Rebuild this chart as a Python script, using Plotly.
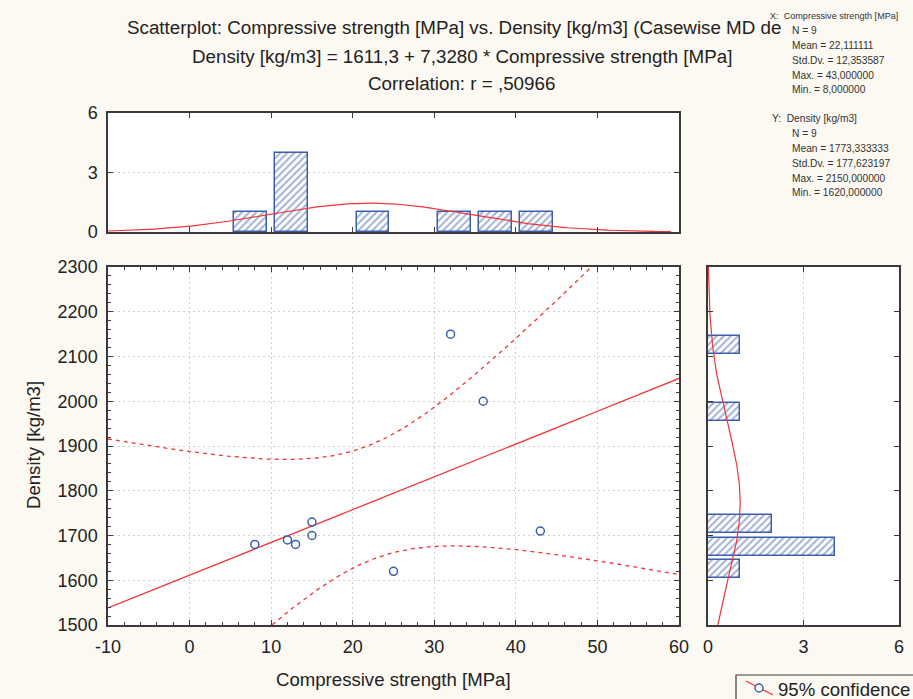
import numpy as np
import pandas as pd
import plotly.graph_objects as go

# ---- data ----
strength = [8, 12, 13, 15, 15, 25, 32, 36, 43]          # Compressive strength [MPa]
density = [1680, 1690, 1680, 1730, 1700, 1620, 2150, 2000, 1710]  # Density [kg/m3]
x_tick_vals = [-10, 0, 10, 20, 30, 40, 50, 60]
y_tick_vals = [1500, 1600, 1700, 1800, 1900, 2000, 2100, 2200, 2300]
hist_tick_vals = [0, 3, 6]
title_lines = [
    "Scatterplot: Compressive strength [MPa] vs. Density [kg/m3] (Casewise MD de",
    "Density [kg/m3] = 1611,3 + 7,3280 * Compressive strength [MPa]",
    "Correlation: r = ,50966",
]
stats_x = ["X:  Compressive strength [MPa]", "N = 9", "Mean = 22,111111",
           "Std.Dv. = 12,353587", "Max. = 43,000000", "Min. = 8,000000"]
stats_y = ["Y:  Density [kg/m3]", "N = 9", "Mean = 1773,333333",
           "Std.Dv. = 177,623197", "Max. = 2150,000000", "Min. = 1620,000000"]
x_bin_edges = list(range(-10, 65, 5))
y_bin_edges = list(range(1500, 2350, 50))

W, H = 913, 699
def px(x): return x / W
def py(y): return 1 - y / H

RED = "#F23434"
BLUE = "#3D5EAD"
FRAME = "#3A3A3A"
GRID = "#CFCFCF"
FONT = "Liberation Sans, Arial, sans-serif"

xs = np.array(strength, float)
ys = np.array(density, float)
n = len(xs)
b1, b0 = np.polyfit(xs, ys, 1)
xline = np.linspace(-10, 60, 400)
yfit = b0 + b1 * xline
res = ys - (b0 + b1 * xs)
s = np.sqrt((res ** 2).sum() / (n - 2))
sxx = ((xs - xs.mean()) ** 2).sum()
t975 = 2.364624  # t(0.975, df=7)
hw = t975 * s * np.sqrt(1 / n + (xline - xs.mean()) ** 2 / sxx)

# histograms (right-closed bins), keep only non-empty bins
xc = pd.cut(pd.Series(xs), bins=x_bin_edges, right=True).value_counts(sort=False)
xc = xc[xc > 0]
x_centers = [(iv.left + iv.right) / 2 for iv in xc.index]
yc = pd.cut(pd.Series(ys), bins=y_bin_edges, right=True).value_counts(sort=False)
yc = yc[yc > 0]
y_centers = [(iv.left + iv.right) / 2 for iv in yc.index]

mx, sdx = xs.mean(), xs.std(ddof=1)
my, sdy = ys.mean(), ys.std(ddof=1)
xn = np.linspace(-10, 59, 300)
xnorm = n * 5 * np.exp(-0.5 * ((xn - mx) / sdx) ** 2) / (sdx * np.sqrt(2 * np.pi))
yn = np.linspace(1500, 2300, 300)
ynorm = n * 50 * np.exp(-0.5 * ((yn - my) / sdy) ** 2) / (sdy * np.sqrt(2 * np.pi))

fig = go.Figure()
# main scatter
fig.add_trace(go.Scatter(x=xline, y=yfit, mode="lines", line=dict(color=RED, width=1.3),
                         xaxis="x", yaxis="y", showlegend=False))
fig.add_trace(go.Scatter(x=xline, y=yfit + hw, mode="lines", line=dict(color=RED, width=1.3, dash="4px,4px"),
                         xaxis="x", yaxis="y", showlegend=False))
fig.add_trace(go.Scatter(x=xline, y=yfit - hw, mode="lines", line=dict(color=RED, width=1.3, dash="4px,4px"),
                         xaxis="x", yaxis="y", showlegend=False))
fig.add_trace(go.Scatter(x=strength, y=density, mode="markers",
                         marker=dict(symbol="circle-open", size=8, color=BLUE, line=dict(width=1.5, color=BLUE)),
                         xaxis="x", yaxis="y", showlegend=False))

bar_marker = dict(color="white", line=dict(color=BLUE, width=1.5),
                  pattern=dict(shape="/", fgcolor=BLUE, bgcolor="white", size=5, solidity=0.38))
# top histogram
fig.add_trace(go.Bar(x=x_centers, y=xc.values, width=4, marker=bar_marker,
                     xaxis="x2", yaxis="y2", showlegend=False))
fig.add_trace(go.Scatter(x=xn, y=xnorm, mode="lines", line=dict(color=RED, width=1.2),
                         xaxis="x2", yaxis="y2", showlegend=False))
# right histogram
fig.add_trace(go.Bar(y=y_centers, x=yc.values, width=40, orientation="h", marker=bar_marker,
                     xaxis="x3", yaxis="y3", showlegend=False))
fig.add_trace(go.Scatter(x=ynorm, y=yn, mode="lines", line=dict(color=RED, width=1.2),
                         xaxis="x3", yaxis="y3", showlegend=False))

axis_common = dict(showline=True, linecolor=FRAME, linewidth=1.5, mirror="ticks",
                   ticks="inside", tickcolor=FRAME, ticklen=5, zeroline=False, automargin=False,
                   ticklabelstandoff=5,
                   tickfont=dict(family=FONT, size=18, color="#222"))

main_xd = [px(108), px(679)]
main_yd = [py(625), py(267)]

fig.update_layout(
    width=W, height=H, margin=dict(l=0, r=0, t=0, b=0, pad=0, autoexpand=False),
    paper_bgcolor="#FCF9F2", plot_bgcolor="white",
    bargap=0,
    xaxis=dict(domain=main_xd, range=[-10, 60], tickvals=x_tick_vals,
               ticktext=[str(v) for v in x_tick_vals],
               showgrid=True, gridcolor=GRID, griddash="2px,3px", gridwidth=1,
               minor=dict(dtick=2, ticks="inside", ticklen=3, tickcolor=FRAME, showgrid=False),
               anchor="y", **axis_common),
    yaxis=dict(domain=main_yd, range=[1500, 2300], tickvals=y_tick_vals,
               ticktext=[str(v) for v in y_tick_vals],
               showgrid=True, gridcolor=GRID, griddash="2px,3px", gridwidth=1,
               minor=dict(dtick=20, ticks="inside", ticklen=3, tickcolor=FRAME, showgrid=False),
               anchor="x", **axis_common),
    xaxis2=dict(domain=main_xd, range=[-10, 60], tickvals=x_tick_vals, showticklabels=False,
                showgrid=False, anchor="y2", **axis_common),
    yaxis2=dict(domain=[py(232), py(113)], range=[0, 6], tickvals=hist_tick_vals,
                showgrid=True, gridcolor=GRID, griddash="2px,3px", anchor="x2", **axis_common),
    xaxis3=dict(domain=[px(708), px(899)], range=[0, 6], tickvals=hist_tick_vals,
                showgrid=True, gridcolor=GRID, griddash="2px,3px", anchor="y3", **axis_common),
    yaxis3=dict(domain=main_yd, range=[1500, 2300], tickvals=y_tick_vals, showticklabels=False,
                showgrid=False, anchor="x3", **axis_common),
)

ann = []
title_y = [27, 56, 84]
for i, t in enumerate(title_lines):
    if i == 0:
        ann.append(dict(x=px(125), y=py(title_y[i]), xanchor="left", text=t))
    else:
        ann.append(dict(x=px(462), y=py(title_y[i]), xanchor="center", text=t))
for a in ann:
    a.update(xref="paper", yref="paper", yanchor="middle", showarrow=False,
             font=dict(family=FONT, size=18.8, color="#222"))

for i, t in enumerate(stats_x):
    ann.append(dict(x=px(768 if i == 0 else 790), y=py(16 + i * 14.8), text=t,
                    xref="paper", yref="paper", xanchor="left", yanchor="middle", showarrow=False,
                    font=dict(family=FONT, size=9.1 if i == 0 else 10.2, color="#333")))
for i, t in enumerate(stats_y):
    ann.append(dict(x=px(770 if i == 0 else 790), y=py(119 + i * 14.8), text=t,
                    xref="paper", yref="paper", xanchor="left", yanchor="middle", showarrow=False,
                    font=dict(family=FONT, size=10.2, color="#333")))

ann.append(dict(x=px(393), y=py(679), text="Compressive strength [MPa]", xref="paper", yref="paper",
                xanchor="center", yanchor="middle", showarrow=False,
                font=dict(family=FONT, size=18.6, color="#222")))
ann.append(dict(x=px(33), y=py(445), text="Density [kg/m3]", textangle=-90, xref="paper", yref="paper",
                xanchor="center", yanchor="middle", showarrow=False,
                font=dict(family=FONT, size=18.6, color="#222")))
ann.append(dict(x=px(776), y=py(689), text="95% confidence", xref="paper", yref="paper",
                xanchor="left", yanchor="middle", showarrow=False,
                font=dict(family=FONT, size=18.6, color="#222")))
fig.update_layout(annotations=ann)

shapes = [
    dict(type="rect", xref="paper", yref="paper", x0=px(736), x1=px(930), y0=py(720), y1=py(675),
         line=dict(color=FRAME, width=1.2), fillcolor="#FCF9F2", layer="below"),
    dict(type="line", xref="paper", yref="paper", x0=px(746), y0=py(681), x1=px(773), y1=py(695),
         line=dict(color=RED, width=1.2)),
    dict(type="circle", xref="paper", yref="paper", x0=px(755), x1=px(763), y0=py(692), y1=py(684),
         line=dict(color=BLUE, width=1.5), fillcolor="white"),
]
fig.update_layout(shapes=shapes)

fig.write_html("out.html")
